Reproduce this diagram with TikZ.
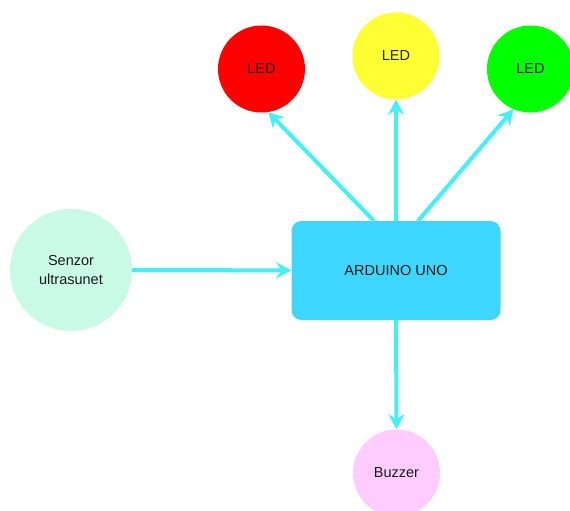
\documentclass[tikz,border=0pt]{standalone}
\usepackage{fontspec}
\setmainfont{Liberation Sans}
\usetikzlibrary{arrows.meta}
\definecolor{ledred}{HTML}{FF0000}
\definecolor{ledyellow}{HTML}{FFFF33}
\definecolor{ledgreen}{HTML}{00FF00}
\definecolor{sensmint}{HTML}{C9FAE6}
\definecolor{unoblue}{HTML}{3DD6FF}
\definecolor{buzzpink}{HTML}{FFCCFF}
\definecolor{wirecyan}{HTML}{44F0F8}
\definecolor{txt}{HTML}{1A1A1A}

\begin{document}
\begin{tikzpicture}[x=1pt,y=-1pt,
  font=\fontsize{14.5}{19.5}\selectfont, text=txt,
  blob/.style={circle,inner sep=0pt,minimum size=87pt},
  board/.style={rectangle,rounded corners=10pt,fill=unoblue,
    minimum width=209pt,minimum height=99pt},
  wire/.style={wirecyan,line width=4pt,
    -{Stealth[length=15pt,width=16pt,inset=5pt]}}]
\useasboundingbox (0,0) rectangle (570,511);

% parts
\node[board] (uno) at (396,270.5) {ARDUINO UNO};
\node[blob,fill=ledred] (red) at (261.5,69) {LED};
\node[blob,fill=ledyellow] (yellow) at (396,56) {LED};
\node[blob,fill=ledgreen] (green) at (530.5,69) {LED};
\node[blob,fill=sensmint,minimum size=122pt,align=center] (sensor) at (71,270) {Senzor\\ultrasunet};
\node[blob,fill=buzzpink] (buzz) at (396.5,473) {Buzzer};

% wires
\draw[wire] (sensor) -- (uno);
\draw[wire] (uno.114) -- (red.-81);
\draw[wire] (uno.north) -- (yellow.south);
\draw[wire] (uno.66) -- (green.-113);
\draw[wire] (uno.south) -- (buzz.north);
\end{tikzpicture}
\end{document}
